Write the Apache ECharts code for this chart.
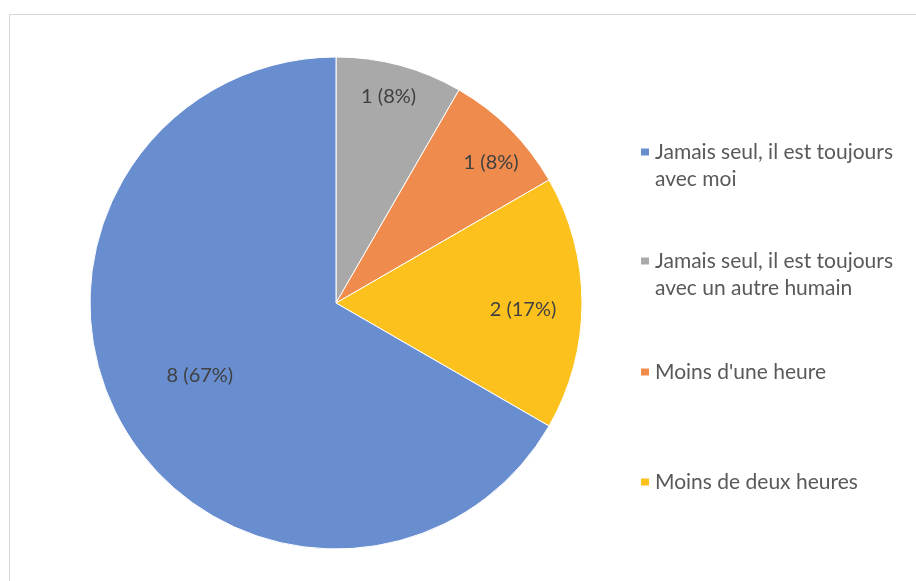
<!DOCTYPE html>
<html>
<head>
<meta charset="utf-8">
<script src="https://cdn.jsdelivr.net/npm/echarts@6/dist/echarts.min.js"></script>
<style>
  html, body { margin: 0; padding: 0; background: #fff; }
  #wrap { position: relative; width: 916px; height: 581px; overflow: hidden; }
  #frame { position: absolute; left: 9px; top: 14px; width: 1000px; height: 1000px;
           border-left: 1px solid #d9d9d9; border-top: 1px solid #d9d9d9; }
  #chart { position: absolute; left: 0; top: 0; width: 916px; height: 581px; }
</style>
</head>
<body>
<div id="wrap">
  <div id="frame"></div>
  <div id="chart"></div>
</div>
<script>
// slices, clockwise from 12 o'clock
var names = [
    "Jamais seul, il est toujours avec un autre humain",
    "Moins d'une heure",
    "Moins de deux heures",
    "Jamais seul, il est toujours avec moi"
];
var values = [1, 1, 2, 8];
var colors = ['#A9A9A9', '#EE8B4D', '#FDC11E', '#698ED0'];
// label nudges from the default inside position
var labelOffsets = [[20, -85], [66, -51], [61, 7], [-27, 10]];

// legend order and text wrapping
var legendOrder = [3, 0, 1, 2];
var legendText = {
    "Jamais seul, il est toujours avec moi": "Jamais seul, il est toujours\navec moi",
    "Jamais seul, il est toujours avec un autre humain": "Jamais seul, il est toujours\navec un autre humain",
    "Moins d'une heure": "Moins d'une heure",
    "Moins de deux heures": "Moins de deux heures"
};
var legendTops = [111.5, 220.5, 358.5, 468.5];

var total = values.reduce(function (a, b) { return a + b; }, 0);

var chart = echarts.init(document.getElementById('chart'));

var pieData = [];
for (var i = 0; i < names.length; i++) {
    pieData.push({
        name: names[i],
        value: values[i],
        itemStyle: { color: colors[i] },
        label: { offset: labelOffsets[i] }
    });
}

var legends = [];
for (var k = 0; k < legendOrder.length; k++) {
    var nm = names[legendOrder[k]];
    legends.push({
        orient: 'vertical',
        left: 639,
        top: legendTops[k],
        padding: 0,
        itemWidth: 10,
        itemHeight: 9,
        icon: 'rect',
        selectedMode: false,
        data: [nm],
        formatter: function (n) {
            var t = legendText[n];
            // blank first line so the icon sits level with the first text line
            return t.indexOf('\n') >= 0 ? '\n' + t : t;
        },
        textStyle: {
            fontFamily: 'Lato, sans-serif',
            fontSize: 21,
            lineHeight: 27,
            color: '#595959'
        }
    });
}

var option = {
    animation: false,
    legend: legends,
    series: [{
        type: 'pie',
        center: [336, 303],
        radius: 246,
        startAngle: 90,
        clockwise: true,
        itemStyle: { borderColor: '#ffffff', borderWidth: 1 },
        label: {
            position: 'inside',
            fontFamily: 'Lato, sans-serif',
            fontSize: 20,
            color: '#404040',
            formatter: function (p) {
                return p.value + ' (' + Math.round(p.value / total * 100) + '%)';
            }
        },
        labelLine: { show: false },
        emphasis: { disabled: true },
        data: pieData
    }]
};

chart.setOption(option);
</script>
</body>
</html>
